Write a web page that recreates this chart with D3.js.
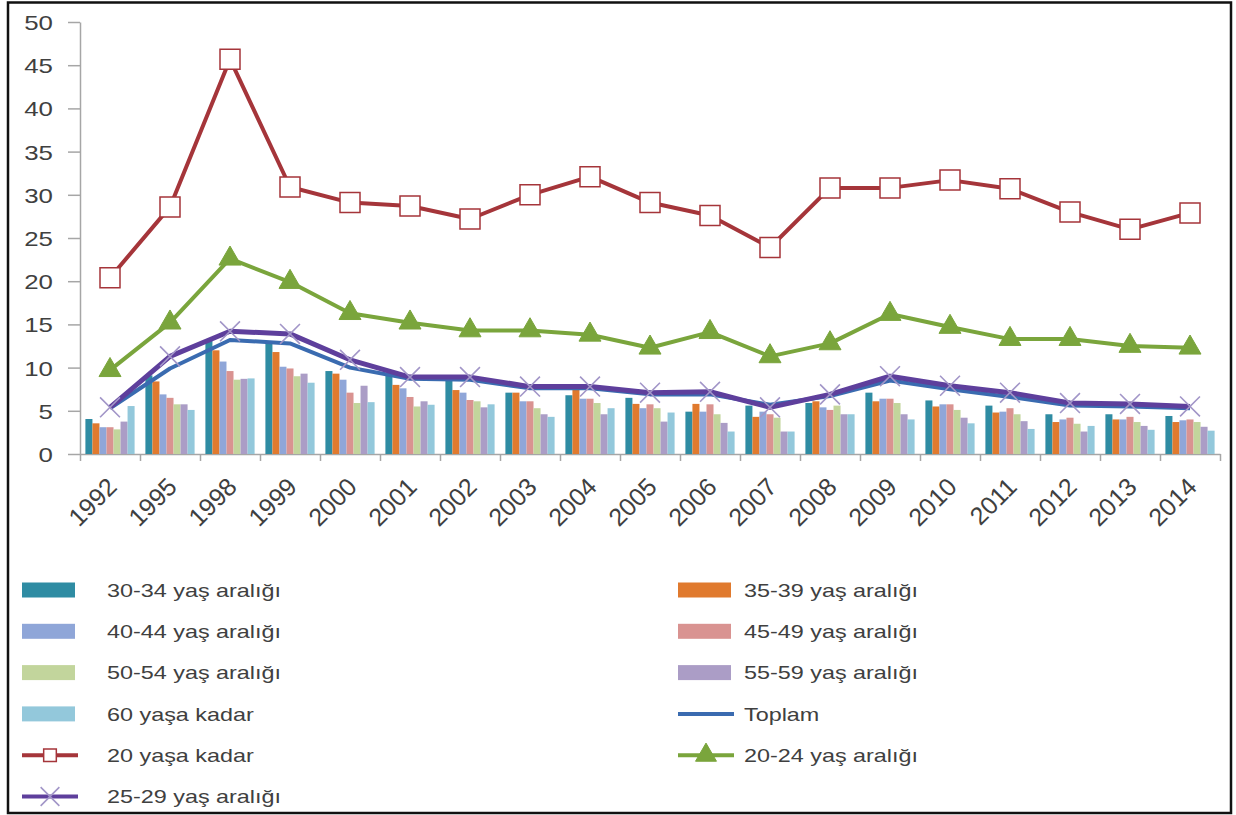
<!DOCTYPE html>
<html>
<head>
<meta charset="utf-8">
<script src="https://cdn.jsdelivr.net/npm/d3@7"></script>
<style>
  body { margin: 0; background: #fff; }
  svg text { font-family: "Liberation Sans", Arial, sans-serif; fill: #404040; }
</style>
</head>
<body>
<svg id="chart" width="1236" height="815"></svg>
<script>
// Data
const years = ['1992', '1995', '1998', '1999', '2000', '2001', '2002', '2003', '2004', '2005',
  '2006', '2007', '2008', '2009', '2010', '2011', '2012', '2013', '2014']

const yas30_34 = [4.05, 9.1, 13.3, 13.0, 9.6, 9.1, 9.0, 7.1, 6.8, 6.5, 4.9, 5.6, 5.9, 7.1, 6.2, 5.6, 4.6, 4.6, 4.4]
const yas35_39 = [3.55, 8.4, 12.0, 11.8, 9.3, 8.0, 7.4, 7.1, 7.9, 5.8, 5.8, 4.3, 6.1, 6.1, 5.5, 4.8, 3.7, 4.0, 3.7]
const yas40_44 = [3.1, 6.9, 10.7, 10.1, 8.6, 7.6, 7.1, 6.1, 6.4, 5.3, 4.9, 4.9, 5.4, 6.4, 5.75, 4.9, 4.0, 4.0, 3.9]
const yas45_49 = [3.1, 6.5, 9.6, 9.9, 7.1, 6.6, 6.25, 6.1, 6.4, 5.75, 5.75, 4.6, 5.1, 6.4, 5.75, 5.3, 4.2, 4.3, 4.0]
const yas50_54 = [2.85, 5.75, 8.6, 9.0, 5.9, 5.5, 6.1, 5.3, 5.9, 5.3, 4.6, 4.2, 5.6, 5.9, 5.1, 4.6, 3.5, 3.7, 3.7]
const yas55_59 = [3.75, 5.75, 8.7, 9.3, 7.9, 6.1, 5.4, 4.6, 4.6, 3.75, 3.6, 2.6, 4.6, 4.6, 4.2, 3.8, 2.6, 3.25, 3.15]
const yasa60 = [5.55, 5.1, 8.75, 8.25, 6.0, 5.7, 5.75, 4.3, 5.3, 4.8, 2.6, 2.6, 4.6, 4.0, 3.55, 2.9, 3.25, 2.8, 2.7]

const yasa20 = [20.4, 28.6, 45.7, 30.9, 29.1, 28.7, 27.2, 30.0, 32.1, 29.1, 27.6, 23.9, 30.8, 30.8, 31.7, 30.7, 28.0, 26.0, 27.9]
const yas20_24 = [9.7, 15.2, 22.6, 19.9, 16.3, 15.2, 14.3, 14.3, 13.8, 12.3, 14.1, 11.3, 12.8, 16.2, 14.7, 13.3, 13.3, 12.5, 12.3]
const yas25_29 = [5.4, 11.3, 14.2, 13.9, 10.9, 8.9, 8.9, 7.8, 7.8, 7.1, 7.2, 5.4, 6.9, 9.0, 7.9, 7.1, 5.9, 5.8, 5.5]
const toplam = [5.3, 9.9, 13.2, 12.8, 10.0, 8.7, 8.6, 7.6, 7.6, 6.9, 6.9, 5.7, 6.7, 8.5, 7.5, 6.6, 5.6, 5.5, 5.3]

const yTicks = [0, 5, 10, 15, 20, 25, 30, 35, 40, 45, 50]

const barSeries = [
  { name: '30-34 yaş aralığı', values: yas30_34, color: '#2f8ca3' },
  { name: '35-39 yaş aralığı', values: yas35_39, color: '#e07a2e' },
  { name: '40-44 yaş aralığı', values: yas40_44, color: '#8fa6d8' },
  { name: '45-49 yaş aralığı', values: yas45_49, color: '#d99391' },
  { name: '50-54 yaş aralığı', values: yas50_54, color: '#c2d59c' },
  { name: '55-59 yaş aralığı', values: yas55_59, color: '#ab9dc6' },
  { name: '60 yaşa kadar', values: yasa60, color: '#93c8db' },
]

const lineSeries = [
  { name: 'Toplam', values: toplam, color: '#3a6bb0', width: 4, marker: null },
  { name: '25-29 yaş aralığı', values: yas25_29, color: '#5e3f9c', width: 5, marker: 'x' },
  { name: '20-24 yaş aralığı', values: yas20_24, color: '#7aa53c', width: 4, marker: 'triangle' },
  { name: '20 yaşa kadar', values: yasa20, color: '#a5353a', width: 4, marker: 'square' },
]

const TXT = 'scale(1.23,1)'  // text in the original is rendered wide
const svg = d3.select('#chart')

// frame
svg.append('rect')
  .attr('x', 8).attr('y', 2.5).attr('width', 1223).attr('height', 810.5)
  .attr('fill', 'none').attr('stroke', '#111').attr('stroke-width', 2.5)

const plotL = 80, plotR = 1220, plotT = 22, plotB = 454

const x0 = d3.scaleBand().domain(years).range([plotL, plotR]).paddingInner(0.18).paddingOuter(0.09)
const x1 = d3.scaleBand().domain(barSeries.map(s => s.name)).range([0, x0.bandwidth()])
const y = d3.scaleLinear().domain([0, 50]).range([plotB, plotT])
const edges = d3.scaleLinear().domain([0, years.length]).range([plotL, plotR])

// y axis
const yAxis = svg.append('g')
  .attr('transform', `translate(${plotL},0)`)
  .call(d3.axisLeft(y).tickValues(yTicks).tickSize(12).tickSizeOuter(0))
yAxis.select('.domain').attr('stroke', '#a6a6a6').attr('stroke-width', 1.5)
yAxis.selectAll('.tick line').attr('stroke', '#a6a6a6').attr('stroke-width', 1.5)
yAxis.selectAll('.tick text')
  .attr('x', -22).attr('dy', '0.36em')
  .attr('font-size', 21).attr('fill', '#404040')
  .attr('transform', TXT)

// x axis with ticks on category boundaries
const xAxis = svg.append('g')
  .attr('transform', `translate(0,${plotB})`)
  .call(d3.axisBottom(edges).ticks(years.length).tickSize(7).tickSizeOuter(0).tickFormat(''))
xAxis.select('.domain').attr('stroke', '#a6a6a6').attr('stroke-width', 1.5)
xAxis.selectAll('.tick line').attr('stroke', '#a6a6a6').attr('stroke-width', 1.5)

svg.append('g').selectAll('text')
  .data(years)
  .join('text')
  .attr('transform', d => `translate(${x0(d) + x0.bandwidth() / 2 - 4},${plotB + 22}) rotate(-45)`)
  .attr('text-anchor', 'end')
  .attr('dy', '0.7em')
  .attr('font-size', 25)
  .attr('fill', '#333')
  .text(d => d)

// bars
const groups = svg.append('g').selectAll('g')
  .data(years)
  .join('g')
  .attr('transform', d => `translate(${x0(d)},0)`)

groups.selectAll('rect')
  .data((d, i) => barSeries.map(s => ({ s, v: s.values[i] })))
  .join('rect')
  .attr('x', d => x1(d.s.name))
  .attr('width', x1.bandwidth())
  .attr('y', d => y(d.v))
  .attr('height', d => plotB - y(d.v))
  .attr('fill', d => d.s.color)

// lines
const cx = d => x0(d) + x0.bandwidth() / 2
const line = d3.line().x((d, i) => cx(years[i])).y(d => y(d))

function drawMarker(g, type, size) {
  if (type === 'square') {
    g.append('path').attr('d', d3.symbol(d3.symbolSquare, size)())
      .attr('fill', '#fff').attr('stroke', '#a5353a').attr('stroke-width', 1.5)
  } else if (type === 'triangle') {
    g.append('path').attr('d', d3.symbol(d3.symbolTriangle, size)())
      .attr('fill', '#7aa53c').attr('stroke', '#7aa53c').attr('stroke-width', 1)
  } else if (type === 'x') {
    g.append('path').attr('d', d3.symbol(d3.symbolTimes, size)())
      .attr('fill', 'none').attr('stroke', '#a296c8').attr('stroke-width', 1.6)
  }
}

lineSeries.forEach(s => {
  svg.append('path')
    .datum(s.values)
    .attr('d', line)
    .attr('fill', 'none')
    .attr('stroke', s.color)
    .attr('stroke-width', s.width)
    .attr('stroke-linejoin', 'round')
  if (s.marker) {
    const size = s.marker === 'square' ? 400 : s.marker === 'triangle' ? 210 : 260
    s.values.forEach((v, i) => {
      const g = svg.append('g').attr('transform', `translate(${cx(years[i])},${y(v)})`)
      drawMarker(g, s.marker, size)
    })
  }
})

// legend
const legendItems = [
  { name: barSeries[0].name, kind: 'bar', color: barSeries[0].color },
  { name: barSeries[1].name, kind: 'bar', color: barSeries[1].color },
  { name: barSeries[2].name, kind: 'bar', color: barSeries[2].color },
  { name: barSeries[3].name, kind: 'bar', color: barSeries[3].color },
  { name: barSeries[4].name, kind: 'bar', color: barSeries[4].color },
  { name: barSeries[5].name, kind: 'bar', color: barSeries[5].color },
  { name: barSeries[6].name, kind: 'bar', color: barSeries[6].color },
  { name: 'Toplam', kind: 'line', color: '#3a6bb0', marker: null, width: 4 },
  { name: '20 yaşa kadar', kind: 'line', color: '#a5353a', marker: 'square', width: 4 },
  { name: '20-24 yaş aralığı', kind: 'line', color: '#7aa53c', marker: 'triangle', width: 4 },
  { name: '25-29 yaş aralığı', kind: 'line', color: '#5e3f9c', marker: 'x', width: 4 },
]

const legendTop = 590, rowH = 41.3
legendItems.forEach((it, i) => {
  const col = i % 2, row = Math.floor(i / 2)
  const sx = col === 0 ? 22 : 678
  const tx = col === 0 ? 107 : 744
  const yy = legendTop + row * rowH
  const g = svg.append('g')
  if (it.kind === 'bar') {
    g.append('rect').attr('x', sx).attr('y', yy - 7.5).attr('width', 53).attr('height', 15)
      .attr('fill', it.color)
  } else {
    g.append('line').attr('x1', sx).attr('x2', sx + 56).attr('y1', yy).attr('y2', yy)
      .attr('stroke', it.color).attr('stroke-width', it.width)
    if (it.marker) {
      const m = g.append('g').attr('transform', `translate(${sx + 28},${yy})`)
      drawMarker(m, it.marker, it.marker === 'square' ? 160 : it.marker === 'triangle' ? 190 : 230)
    }
  }
  g.append('text')
    .attr('transform', `translate(${tx},${yy}) ${TXT}`)
    .attr('dy', '0.36em')
    .attr('font-size', 19)
    .text(it.name)
})
</script>
</body>
</html>
